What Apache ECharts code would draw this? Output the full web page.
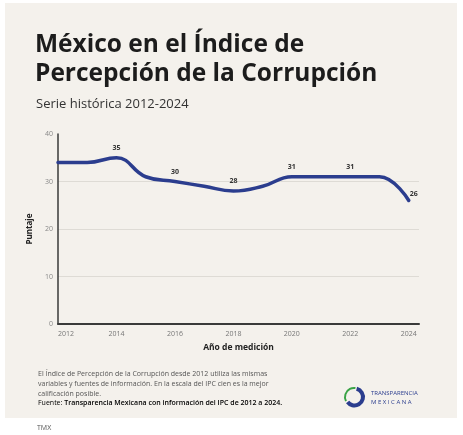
<!DOCTYPE html>
<html>
<head>
<meta charset="utf-8">
<script src="https://cdn.jsdelivr.net/npm/echarts@6/dist/echarts.min.js"></script>
<style>
html,body{margin:0;padding:0;background:#ffffff;}
#chart{width:463px;height:435px;}
</style>
</head>
<body>
<div id="chart"></div>
<script>
// ---- data ----
var years = [2012, 2013, 2014, 2015, 2016, 2017, 2018, 2019, 2020, 2021, 2022, 2023, 2024];
var scores = [34, 34, 35, 31, 30, 29, 28, 29, 31, 31, 31, 31, 26];
var labeledYears = [2014, 2016, 2018, 2020, 2022, 2024];
var yTicks = [0, 10, 20, 30, 40];
var titleLines = ['México en el Índice de', 'Percepción de la Corrupción'];
var subtitle = 'Serie histórica 2012-2024';
var noteLines = [
  'El Índice de Percepción de la Corrupción desde 2012 utiliza las mismas',
  'variables y fuentes de información. En la escala del IPC cien es la mejor',
  'calificación posible.'
];
var sourceLabel = 'Fuente: ';
var sourceText = 'Transparencia Mexicana con información del IPC de 2012 a 2024.';

var FONT = '"Open Sans", "Noto Sans", sans-serif';
var NAVY = '#2b3d8e';

var seriesData = years.map(function (y, i) {
  var d = { value: [y, scores[i]] };
  if (y === years[years.length - 1]) {
    d.label = { offset: [5, 3] };
  }
  return d;
});

var chart = echarts.init(document.getElementById('chart'), null, { renderer: 'canvas' });

var option = {
  backgroundColor: '#ffffff',
  animation: false,
  graphic: [
    { type: 'rect', z: -10, shape: { x: 5, y: 3, width: 452, height: 415 }, style: { fill: '#f4f1ec' } },
    { type: 'text', left: 35, top: 33, style: { text: titleLines[0], font: 'bold 24.5px ' + FONT, fill: '#1c1c1c' } },
    { type: 'text', left: 35, top: 62, style: { text: titleLines[1], font: 'bold 24.5px ' + FONT, fill: '#1c1c1c' } },
    { type: 'text', left: 36, top: 98, style: { text: subtitle, font: '13px ' + FONT, fill: '#333333' } },
    { type: 'text', left: 38, top: 369, style: { text: noteLines.join('\n'), font: '7px ' + FONT, fill: '#555555', lineHeight: 10 } },
    { type: 'text', left: 38, top: 399, style: { rich: { a: { fontSize: 7, fontFamily: FONT, color: '#555555' }, b: { fontSize: 7, fontFamily: FONT, fontWeight: 600, color: '#444444' } }, text: '{a|' + sourceLabel + '}{b|' + sourceText + '}' } },
    { type: 'text', left: 37, top: 424, style: { text: 'TMX', font: '7px ' + FONT, fill: '#555555' } },
    { type: 'arc', shape: { cx: 354, cy: 397, r: 9, startAngle: Math.PI * 0.85, endAngle: Math.PI * 1.55, clockwise: true }, style: { stroke: '#3aa346', lineWidth: 2, fill: null } },
    { type: 'arc', shape: { cx: 354.5, cy: 397, r: 8.5, startAngle: -Math.PI * 0.42, endAngle: Math.PI * 0.8, clockwise: true }, style: { stroke: NAVY, lineWidth: 4, fill: null } },
    { type: 'text', left: 371, top: 390, style: { text: 'TRANSPARENCIA', font: '6px ' + FONT, fill: NAVY } },
    { type: 'text', left: 371, top: 399, style: { text: 'M E X I C A N A', font: '6px ' + FONT, fill: NAVY } }
  ],
  grid: { left: 58, right: 44, top: 134, bottom: 111, containLabel: false },
  xAxis: {
    type: 'value',
    min: years[0],
    max: 2024.35,
    interval: 2,
    name: 'Año de medición',
    nameLocation: 'middle',
    nameGap: 19,
    nameTextStyle: { fontFamily: FONT, fontSize: 8.5, fontWeight: 'bold', color: '#222222' },
    axisLine: { show: true, lineStyle: { color: '#3a3a3a', width: 2 } },
    axisTick: { show: false },
    splitLine: { show: false },
    axisLabel: {
      color: '#777777', fontSize: 7, fontFamily: FONT, margin: 6,
      showMaxLabel: false, alignMinLabel: 'left',
      formatter: function (v) { return String(v); }
    }
  },
  yAxis: {
    type: 'value',
    min: yTicks[0],
    max: yTicks[yTicks.length - 1],
    interval: 10,
    name: 'Puntaje',
    nameLocation: 'middle',
    nameGap: 16,
    nameRotate: 90,
    nameTextStyle: { fontFamily: FONT, fontSize: 8, fontWeight: 'bold', color: '#222222' },
    axisLine: { show: true, lineStyle: { color: '#3a3a3a', width: 1.5 } },
    axisTick: { show: false },
    splitLine: { show: true, showMaxLine: false, lineStyle: { color: '#dedbd5', width: 1 } },
    axisLabel: { color: '#888888', fontSize: 7, fontFamily: FONT, margin: 5 }
  },
  series: [{
    type: 'line',
    data: seriesData,
    smooth: 0.45,
    showSymbol: true,
    symbol: 'circle',
    symbolSize: 1,
    itemStyle: { color: 'rgba(0,0,0,0)' },
    lineStyle: { color: NAVY, width: 3.5, cap: 'round' },
    label: { show: true, position: 'top', distance: 6, fontSize: 7, fontWeight: 'bold', fontFamily: FONT, color: '#333333',
      formatter: function (p) {
        return labeledYears.indexOf(p.value[0]) >= 0 ? String(p.value[1]) : '';
      } }
  }]
};
chart.setOption(option);
</script>
</body>
</html>
